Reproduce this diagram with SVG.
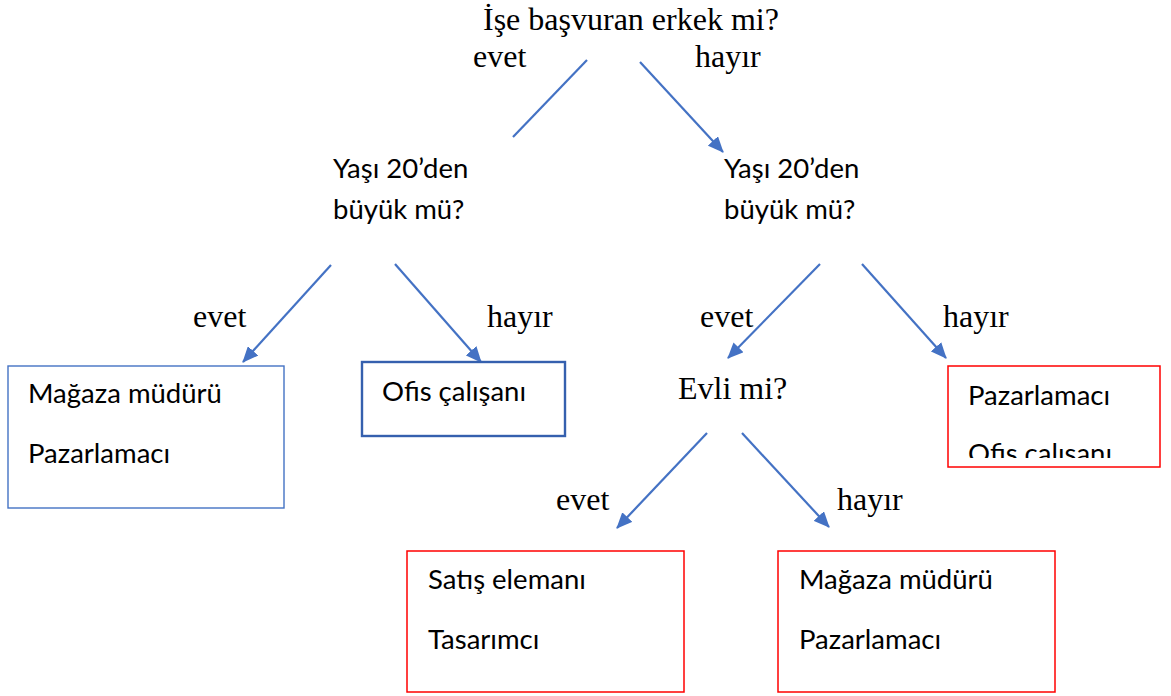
<svg xmlns="http://www.w3.org/2000/svg" width="1171" height="696" viewBox="0 0 1171 696">
<style>
.serif{font-family:"Liberation Serif","Times New Roman",serif;font-size:32px;fill:#000}
.sans{font-family:Lato,"Liberation Sans",sans-serif;font-size:27.5px;fill:#000}
.conn{stroke:#4472C4;stroke-width:2.2;fill:none}
.arr{marker-end:url(#ah)}
.bluebox{fill:#fff;stroke:#4472C4;stroke-width:1.4}
.bluebox2{fill:#fff;stroke:#3560AE;stroke-width:2.4}
.redbox{fill:#fff;stroke:#FF0000;stroke-width:1.5}
</style>
<defs>
<marker id="ah" markerUnits="userSpaceOnUse" markerWidth="16" markerHeight="14" refX="15" refY="7" orient="auto">
<path d="M0,0 L16,7 L0,14 Z" fill="#4472C4"/>
</marker>
<clipPath id="clipR"><rect x="948" y="366" width="212" height="92"/></clipPath>
</defs>
<rect width="1171" height="696" fill="#fff"/>
<g id="connectors">
<line class="conn" x1="587" y1="60" x2="513" y2="137"/>
<line class="conn arr" x1="640" y1="62" x2="723" y2="152"/>
<line class="conn arr" x1="331" y1="265" x2="243" y2="362"/>
<line class="conn arr" x1="395" y1="264" x2="481" y2="362"/>
<line class="conn arr" x1="820" y1="264" x2="728" y2="358"/>
<line class="conn arr" x1="862" y1="264" x2="946" y2="358"/>
<line class="conn arr" x1="707" y1="433" x2="617" y2="528"/>
<line class="conn arr" x1="742" y1="433" x2="829" y2="527"/>
</g>
<g id="labels">
<text class="serif" x="473" y="67">evet</text>
<text class="serif" x="695" y="67">hayır</text>
<text class="serif" x="193" y="327">evet</text>
<text class="serif" x="487" y="327">hayır</text>
<text class="serif" x="700" y="327">evet</text>
<text class="serif" x="943" y="327">hayır</text>
<text class="serif" x="556" y="510">evet</text>
<text class="serif" x="837" y="510">hayır</text>
</g>
<g id="root"><text class="serif" x="483" y="30">İşe başvuran erkek mi?</text></g>
<g id="age-left"><text class="sans" x="333" y="178">Yaşı 20’den</text><text class="sans" x="333" y="219">büyük mü?</text></g>
<g id="age-right"><text class="sans" x="724" y="178">Yaşı 20’den</text><text class="sans" x="724" y="219">büyük mü?</text></g>
<g id="married"><text class="serif" x="678" y="399">Evli mi?</text></g>
<g id="leaf1"><rect class="bluebox" x="8" y="366" width="276" height="142"/><text class="sans" x="28" y="403">Mağaza müdürü</text><text class="sans" x="28" y="463">Pazarlamacı</text></g>
<g id="leaf2"><rect class="bluebox2" x="362" y="362" width="203" height="74"/><text class="sans" x="382" y="401">Ofis çalışanı</text></g>
<g id="leaf3"><rect class="redbox" x="948" y="366" width="212" height="101"/><g clip-path="url(#clipR)"><text class="sans" x="968" y="405">Pazarlamacı</text><text class="sans" x="968" y="463">Ofis çalışanı</text></g></g>
<g id="leaf4"><rect class="redbox" x="407" y="551" width="277" height="141"/><text class="sans" x="428" y="589">Satış elemanı</text><text class="sans" x="428" y="649">Tasarımcı</text></g>
<g id="leaf5"><rect class="redbox" x="778" y="551" width="277" height="141"/><text class="sans" x="799" y="589">Mağaza müdürü</text><text class="sans" x="799" y="649">Pazarlamacı</text></g>
</svg>
